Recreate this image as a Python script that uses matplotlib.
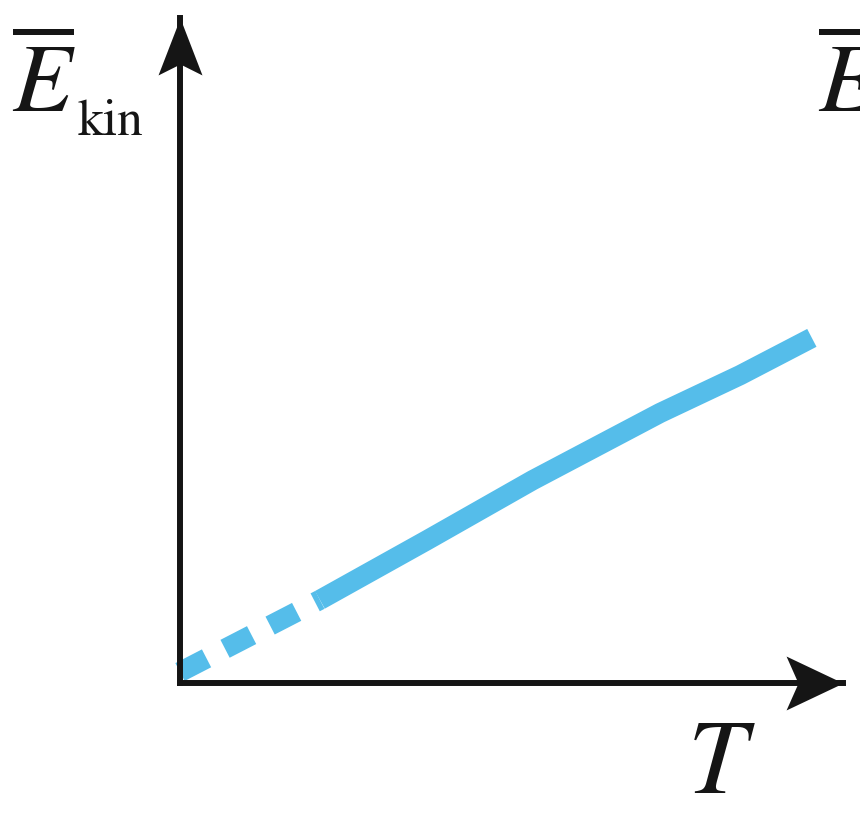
import numpy as np
import matplotlib
matplotlib.use("Agg")
from matplotlib import pyplot as plt
from matplotlib.path import Path

plt.rcParams['mathtext.fontset'] = 'stix'
plt.rcParams['lines.scale_dashes'] = False

# extrapolated part (dashed) and measured part (solid), arbitrary units
T_dash = [0.0, 2.11]
E_dash = [0.165, 1.25]
T_meas = [2.11, 3.73, 5.32, 7.24, 8.45, 9.53]
E_meas = [1.25, 2.15, 3.05, 4.06, 4.63, 5.19]

blue = '#55BDEA'
ink = '#151515'

fig = plt.figure(figsize=(8.6, 8.16), dpi=100)
ax = fig.add_axes([180/860, 133/816, 663/860, 665/816])
ax.set_xlim(0, 10)
ax.set_ylim(0, 10)

# axes as arrows
for s in ['top', 'right']:
    ax.spines[s].set_visible(False)
for s in ['left', 'bottom']:
    ax.spines[s].set_linewidth(4.3)
    ax.spines[s].set_color(ink)
    ax.spines[s].set_capstyle('projecting')
ax.set_xticks([])
ax.set_yticks([])

codes = [Path.MOVETO, Path.LINETO, Path.LINETO, Path.LINETO, Path.CLOSEPOLY]
head_x = Path([(0, 0), (-57, 27), (-45, 0), (-57, -27), (0, 0)], codes)
head_y = Path([(0, 0), (-22, -57), (0, -46), (22, -57), (0, 0)], codes)
ax.plot(1, 0, marker=head_x, markersize=82, color=ink, markeredgewidth=0,
        transform=ax.transAxes, clip_on=False)
ax.plot(0, 1, marker=head_y, markersize=82, color=ink, markeredgewidth=0,
        transform=ax.transAxes, clip_on=False)

# the line
l, = ax.plot(T_dash, E_dash, color=blue, lw=14.5, dash_capstyle='butt',
             solid_capstyle='butt', clip_on=False)
l.set_dashes((21.5, 15))
ax.plot(T_meas, E_meas, color=blue, lw=14.5, solid_capstyle='butt',
        solid_joinstyle='round', clip_on=False)

# labels (the right one is cut by the edge, as in the original)
fig.text(0.014, (816-112)/816, r'$\overline{E}$', fontsize=70, va='baseline', color=ink)
fig.text(77/860, (816-135)/816, r'$\mathrm{kin}$', fontsize=37, va='baseline', color=ink)
fig.text(0.951, (816-112)/816, r'$\overline{E}$', fontsize=70, va='baseline', color=ink)
fig.text(721/860, 23/816, r'$T$', fontsize=76, ha='center', va='baseline', color=ink)

fig.savefig('out.png', dpi=100, facecolor='white')
